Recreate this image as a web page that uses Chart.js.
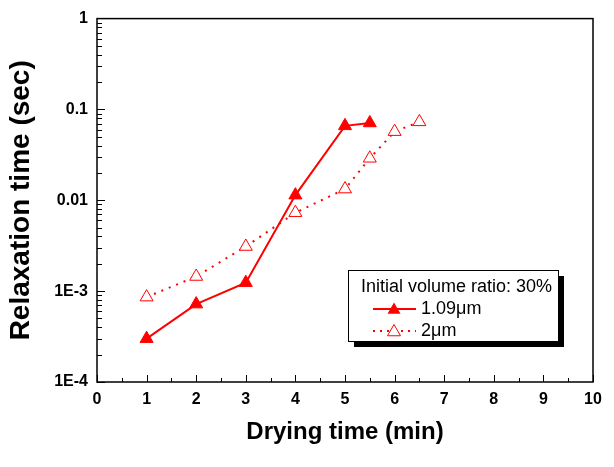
<!DOCTYPE html>
<html>
<head>
<meta charset="utf-8">
<script src="https://cdn.jsdelivr.net/npm/chart.js@4.4.0/dist/chart.umd.min.js"></script>
<style>
  html, body { margin: 0; padding: 0; background: #fff; }
  #wrap { width: 614px; height: 467px; }
</style>
</head>
<body>
<div id="wrap"><canvas id="myChart" width="614" height="467"></canvas></div>
<script>
// values
var xValuesA = [1, 2, 3, 4, 5, 5.5];
var yValuesA = [0.0003, 0.00072, 0.00124, 0.0114, 0.066, 0.071];
var xValuesB = [1, 2, 3, 4, 5, 5.5, 6, 6.5];
var yValuesB = [0.00086, 0.00145, 0.0031, 0.0073, 0.0133, 0.029, 0.057, 0.073];
var seriesLabels = ['1.09\u03bcm', '2\u03bcm'];
var legendTitle = 'Initial volume ratio: 30%';
var xTickValues = [0, 1, 2, 3, 4, 5, 6, 7, 8, 9, 10];
var yTickValues = [0.0001, 0.001, 0.01, 0.1, 1];
var yTickLabels = ['1E-4', '1E-3', '0.01', '0.1', '1'];

var RED = '#ff0000';
var FONT = 'Arial, "Liberation Sans", sans-serif';

function toPoints(xs, ys) {
    return xs.map(function (x, i) { return { x: x, y: ys[i] }; });
}

function triangle(ctx, x, y, r) {
    var rad = 0;
    ctx.beginPath();
    ctx.moveTo(x + Math.sin(rad) * r, y - Math.cos(rad) * r);
    rad += Math.PI * 2 / 3;
    ctx.lineTo(x + Math.sin(rad) * r, y - Math.cos(rad) * r);
    rad += Math.PI * 2 / 3;
    ctx.lineTo(x + Math.sin(rad) * r, y - Math.cos(rad) * r);
    ctx.closePath();
}

// frame round the plot plus inward ticks (major and minor)
var frameAndTicks = {
    id: 'frameAndTicks',
    afterDatasetsDraw: function (chart) {
        var ctx = chart.ctx;
        var a = chart.chartArea;
        var xs = chart.scales.x;
        var ys = chart.scales.y;
        ctx.save();
        ctx.strokeStyle = '#000';
        ctx.lineWidth = 1.5;
        ctx.strokeRect(a.left, a.top, a.right - a.left, a.bottom - a.top);
        ctx.lineWidth = 1;
        ctx.beginPath();
        for (var v = 0; v <= 10; v += 0.5) {
            var px = Math.round(xs.getPixelForValue(v)) + 0.5;
            var len = (v % 1 === 0) ? 7 : 4;
            ctx.moveTo(px, a.bottom);
            ctx.lineTo(px, a.bottom - len);
        }
        for (var d = -4; d < 0; d++) {
            for (var m = 1; m < 10; m++) {
                var py = Math.round(ys.getPixelForValue(m * Math.pow(10, d))) + 0.5;
                var l = (m === 1) ? 8 : 5;
                ctx.moveTo(a.left, py);
                ctx.lineTo(a.left + l, py);
            }
        }
        ctx.stroke();
        ctx.restore();
    }
};

// boxed legend with drop shadow
var boxLegend = {
    id: 'boxLegend',
    afterDraw: function (chart) {
        var ctx = chart.ctx;
        var bx = 348, by = 270, bw = 210, bh = 71;
        ctx.save();
        ctx.fillStyle = '#000';
        ctx.fillRect(bx + 6, by + 6, bw, bh);
        ctx.fillStyle = '#fff';
        ctx.fillRect(bx, by, bw, bh);
        ctx.strokeStyle = '#000';
        ctx.lineWidth = 1;
        ctx.strokeRect(bx + 0.5, by + 0.5, bw, bh);

        ctx.fillStyle = '#000';
        ctx.font = '18px ' + FONT;
        ctx.textBaseline = 'middle';
        ctx.textAlign = 'left';
        ctx.fillText(legendTitle, 361, 287);
        ctx.fillText(seriesLabels[0], 421, 309);
        ctx.fillText(seriesLabels[1], 421, 331);

        ctx.strokeStyle = RED;
        ctx.lineWidth = 2;
        ctx.beginPath();
        ctx.moveTo(373, 309);
        ctx.lineTo(416, 309);
        ctx.stroke();
        ctx.fillStyle = RED;
        triangle(ctx, 394, 310, 7.5);
        ctx.fill();

        ctx.setLineDash([2, 5]);
        ctx.beginPath();
        ctx.moveTo(373, 331);
        ctx.lineTo(416, 331);
        ctx.stroke();
        ctx.setLineDash([]);
        ctx.lineWidth = 1;
        ctx.fillStyle = '#fff';
        triangle(ctx, 394, 332, 7.5);
        ctx.fill();
        ctx.stroke();
        ctx.restore();
    }
};

var ctx = document.getElementById('myChart');
var myChart = new Chart(ctx, {
    type: 'scatter',
    data: {
        datasets: [{
                label: seriesLabels[0],
                data: toPoints(xValuesA, yValuesA),
                showLine: true,
                borderColor: RED,
                borderWidth: 2,
                pointStyle: 'triangle',
                pointRadius: 7.5,
                pointBackgroundColor: RED,
                pointBorderColor: RED,
                pointBorderWidth: 1
            }, {
                label: seriesLabels[1],
                data: toPoints(xValuesB, yValuesB),
                showLine: true,
                borderColor: RED,
                borderWidth: 2,
                borderDash: [2, 6],
                pointStyle: 'triangle',
                pointRadius: 7.5,
                pointBackgroundColor: '#fff',
                pointBorderColor: RED,
                pointBorderWidth: 1
            }]
    },
    options: {
        responsive: false,
        animation: false,
        events: [],
        layout: { padding: { top: 18, right: 21, left: 0, bottom: 0 } },
        plugins: {
            legend: { display: false },
            tooltip: { enabled: false }
        },
        scales: {
            x: {
                type: 'linear',
                min: 0,
                max: 10,
                afterBuildTicks: function (scale) {
                    scale.ticks = xTickValues.map(function (v) { return { value: v }; });
                },
                afterFit: function (scale) { scale.height = 85; },
                grid: { display: false, drawTicks: false, tickLength: 0 },
                border: { display: false },
                ticks: {
                    padding: 8,
                    maxRotation: 0,
                    color: '#000',
                    font: { family: FONT, size: 16, weight: 'bold' }
                },
                title: {
                    display: true,
                    text: 'Drying time (min)',
                    color: '#000',
                    font: { family: FONT, size: 24, weight: 'bold' },
                    padding: { top: 0, bottom: 20 }
                }
            },
            y: {
                type: 'logarithmic',
                min: 0.0001,
                max: 1,
                afterBuildTicks: function (scale) {
                    scale.ticks = yTickValues.map(function (v) { return { value: v }; });
                },
                afterFit: function (scale) { scale.width = 97; },
                grid: { display: false, drawTicks: false, tickLength: 0 },
                border: { display: false },
                ticks: {
                    padding: 9,
                    color: '#000',
                    font: { family: FONT, size: 16, weight: 'bold' },
                    callback: function (value) {
                        var i = yTickValues.indexOf(value);
                        return i >= 0 ? yTickLabels[i] : '';
                    }
                },
                title: {
                    display: true,
                    text: 'Relaxation time (sec)',
                    color: '#000',
                    font: { family: FONT, size: 28, weight: 'bold' },
                    padding: { top: 4, bottom: 0 }
                }
            }
        }
    },
    plugins: [frameAndTicks, boxLegend]
});
</script>
</body>
</html>
